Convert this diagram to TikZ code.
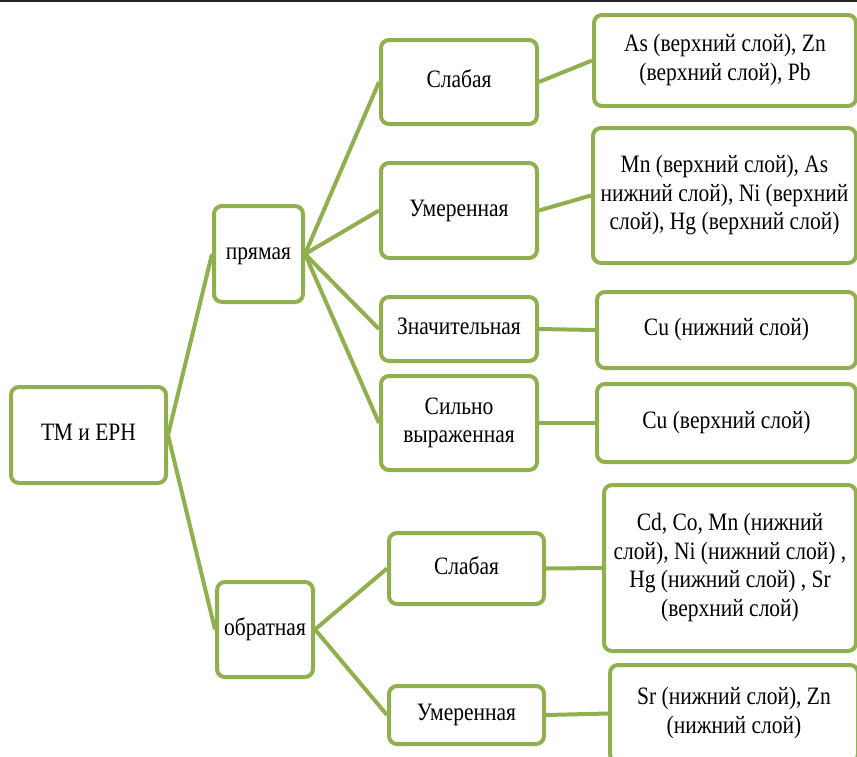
\documentclass[tikz,border=0pt]{standalone}
\usepackage{fontspec}
\setmainfont{LiberationSerif}[Extension=.ttf, UprightFont=*-Regular]
\usetikzlibrary{backgrounds}
\definecolor{leaf}{RGB}{144,176,80}
\newcommand{\narrow}[1]{\scalebox{0.86}[1]{\begin{tabular}{@{}c@{}}#1\end{tabular}}}
\tikzset{
  box/.style={draw=leaf, line width=4pt, rounded corners=8pt, fill=white,
    align=center, inner sep=2pt, font=\fontsize{25}{28.5}\selectfont},
  link/.style={draw=leaf, line width=4pt}
}
\begin{document}
\begin{tikzpicture}[x=1pt,y=-1pt]
\useasboundingbox (0,0) rectangle (857,756);
\clip (0,0) rectangle (857,756);
\draw[line width=2pt, black!85] (0,1) -- (857,1);

% root and the two groups
\node[box, minimum width=155, minimum height=96] (tm) at (88.5,435) {\narrow{ТМ и ЕРН}};
\node[box, minimum width=89, minimum height=96] (pr) at (258.5,254) {\narrow{прямая}};
\node[box, minimum width=96, minimum height=95] (ob) at (265,629.5) {\narrow{обратная}};

% strength levels
\node[box, minimum width=156, minimum height=84] (s1) at (459,82) {\narrow{Слабая}};
\node[box, minimum width=156, minimum height=95] (u1) at (459,210.5) {\narrow{Умеренная}};
\node[box, minimum width=156, minimum height=64] (z1) at (459,329) {\narrow{Значительная}};
\node[box, minimum width=156, minimum height=94] (sv) at (459,423) {\narrow{Сильно\\выраженная}};
\node[box, minimum width=155, minimum height=71] (s2) at (466.5,568.5) {\narrow{Слабая}};
\node[box, minimum width=155, minimum height=58] (u2) at (466.5,715) {\narrow{Умеренная}};

% elements
\node[box, minimum width=262, minimum height=91] (r1) at (725,60.5)
  {\narrow{As (верхний слой), Zn\\(верхний слой), Pb}};
\node[box, minimum width=263, minimum height=135] (r2) at (724.5,195.5)
  {\narrow{Mn (верхний слой), As\\нижний слой), Ni (верхний\\слой), Hg (верхний слой)}};
\node[box, minimum width=259, minimum height=76] (r3) at (726.5,330) {\narrow{Cu (нижний слой)}};
\node[box, minimum width=259, minimum height=78] (r4) at (726.5,423) {\narrow{Cu (верхний слой)}};
\node[box, minimum width=252, minimum height=166] (r5) at (730,568)
  {\narrow{Cd, Co, Mn (нижний\\слой), Ni (нижний слой) ,\\Hg (нижний слой) , Sr\\(верхний слой)}};
\node[box, minimum width=248, minimum height=97] (r6) at (734,713.5)
  {\narrow{Sr (нижний слой), Zn\\(нижний слой)}};

% connectors, behind the boxes
\begin{pgfonlayer}{background}
\foreach \a/\b in {tm/pr, tm/ob, pr/s1, pr/u1, pr/z1, pr/sv, ob/s2, ob/u2,
                   s1/r1, u1/r2, z1/r3, sv/r4, s2/r5, u2/r6}
  \draw[link] (\a.east) -- (\b.west);
\end{pgfonlayer}
\end{tikzpicture}
\end{document}
